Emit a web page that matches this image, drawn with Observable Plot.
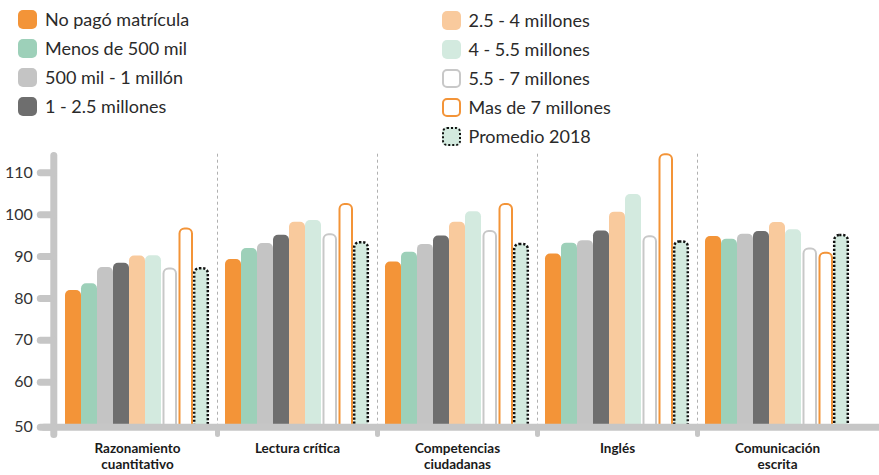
<!DOCTYPE html>
<html><head><meta charset="utf-8">
<script src="https://cdn.jsdelivr.net/npm/d3@7"></script>
<script src="https://cdn.jsdelivr.net/npm/@observablehq/plot@0.6"></script>
<style>
body{margin:0;background:#fff;font-family:Lato,"Open Sans",sans-serif;}
#legend{position:relative;height:150px;width:879px;}
.item{position:absolute;display:flex;align-items:center;font-size:18px;color:#2a2a2a;height:22px;white-space:nowrap;}
.sw{width:19px;height:19px;border-radius:5px;box-sizing:border-box;margin-right:8px;flex:none;}
#chart svg{display:block;}
</style></head><body>
<div id="legend"></div><div id="chart"></div>
<script>
const subjects = ["Razonamiento cuantitativo","Lectura crítica","Competencias ciudadanas","Inglés","Comunicación escrita"];
const subjectLabels = ["Razonamiento\ncuantitativo","Lectura crítica","Competencias\nciudadanas","Inglés","Comunicación\nescrita"];
const categories = ["No pagó matrícula","Menos de 500 mil","500 mil - 1 millón","1 - 2.5 millones","2.5 - 4 millones","4 - 5.5 millones","5.5 - 7 millones","Mas de 7 millones","Promedio 2018"];
const razonamiento = [81.9, 83.5, 87.4, 88.4, 90.1, 90.2, 87.0, 96.6, 87.1];
const lectura      = [89.3, 91.9, 93.1, 95.1, 98.2, 98.6, 95.2, 102.4, 93.3];
const competencias = [88.7, 91.0, 92.9, 94.9, 98.2, 100.7, 96.0, 102.4, 92.9];
const ingles       = [90.6, 93.2, 93.8, 96.1, 100.6, 104.8, 94.7, 114.3, 93.5];
const comunicacion = [94.8, 94.1, 95.3, 96.0, 98.1, 96.4, 91.8, 90.8, 95.0];
const yTickLabels = [50, 60, 70, 80, 90, 100, 110];

const fills = ["#f39438","#9dd0b9","#c4c4c4","#6e6e6e","#f9ca9d","#d3eadf","#ffffff","#ffffff","#d3eadf"];
const strokes = [null,null,null,null,null,null,"#c8c8c8","#f39438","#111111"];
const axisGray = "#c6c6c6";

// legend
const legend = document.getElementById("legend");
categories.forEach((c, i) => {
  const col = i < 4 ? 0 : 1;
  const row = i < 4 ? i : i - 4;
  const it = document.createElement("div");
  it.className = "item";
  it.style.left = (col ? 441.5 : 18) + "px";
  it.style.top = (col ? 9 : 8) + row * 29 + "px";
  const sw = document.createElement("div");
  sw.className = "sw";
  sw.style.background = fills[i];
  if (strokes[i]) sw.style.border = "2.5px " + (i === 8 ? "dotted " : "solid ") + strokes[i];
  const tx = document.createElement("span");
  tx.textContent = c;
  it.appendChild(sw); it.appendChild(tx);
  legend.appendChild(it);
});

const series = [razonamiento, lectura, competencias, ingles, comunicacion];
const rows = [];
series.forEach((vals, i) => vals.forEach((v, j) => rows.push({subject: subjects[i], category: categories[j], value: v, k: j})));

const yBase = 49.25;
const yTop = 115.32;
const yTicks = yTickLabels.map(d => d === 50 ? yBase : d);
const yBelow = 40;

const plot = Plot.plot({
  width: 879, height: 325,
  marginLeft: 53, marginRight: 18.6, marginTop: 0, marginBottom: 48.3,
  fx: {domain: subjects, paddingInner: 0, paddingOuter: 0.023, axis: null},
  x: {domain: categories, paddingInner: 0, paddingOuter: 0.5, axis: null},
  y: {domain: [yBase, yTop], axis: null},
  style: {fontFamily: "Lato, 'Open Sans', sans-serif", background: "white", overflow: "visible"},
  marks: [
    Plot.ruleX(subjects.slice(1), {fx: d => d, x: () => categories[0], dx: -16, y1: () => yBase, y2: () => 114.8, stroke: "#b0b0b0", strokeDasharray: "3,3", strokeWidth: 1}),
    Plot.barY(rows.filter(d => d.k < 6), {fx: "subject", x: "category", y1: () => yBelow, y2: "value", fill: d => fills[d.k], rx: 5, clip: true}),
    Plot.barY(rows.filter(d => d.k === 6), {fx: "subject", x: "category", y1: () => yBelow, y2: "value", fill: "#fff", stroke: strokes[6], strokeWidth: 2, rx: 5, insetLeft: 2.5, insetRight: 1, clip: true}),
    Plot.barY(rows.filter(d => d.k === 7), {fx: "subject", x: "category", y1: () => yBelow, y2: "value", fill: "#fff", stroke: strokes[7], strokeWidth: 2, rx: 5, insetLeft: 2.5, insetRight: 1, clip: true}),
    Plot.barY(rows.filter(d => d.k === 8), {fx: "subject", x: "category", y1: () => yBelow, y2: "value", fill: fills[8], stroke: strokes[8], strokeWidth: 2.5, strokeDasharray: "2.2,1.8", rx: 5, insetLeft: 1.2, insetRight: 1.2, clip: true}),
    Plot.ruleY([subjects[0]], {fx: d => d, y: () => yBase, insetLeft: -13.2, stroke: axisGray, strokeWidth: 7, strokeLinecap: "round"}),
    Plot.ruleY(subjects.slice(1, 4), {fx: d => d, y: () => yBase, stroke: axisGray, strokeWidth: 7}),
    Plot.ruleY([subjects[4]], {fx: d => d, y: () => yBase, insetRight: -24, stroke: axisGray, strokeWidth: 7}),
    Plot.ruleX(subjects.slice(1), {fx: d => d, x: () => categories[0], dx: -16, y1: () => yBase, y2: () => 47.4, stroke: axisGray, strokeWidth: 5, strokeLinecap: "round"}),
    Plot.ruleX([subjects[0]], {fx: d => d, x: () => categories[0], dx: -19.7, y1: () => 47.4, y2: () => 114.0, stroke: axisGray, strokeWidth: 7, strokeLinecap: "round"}),
    Plot.axisY({ticks: yTicks, tickFormat: d => d === yBase ? "50" : String(d), tickSize: 13, tickPadding: 8, dx: -3.7, stroke: axisGray, strokeWidth: 7, strokeLinecap: "round", fill: "#333", fontSize: 16, label: null}),
    Plot.text(subjects, {fx: d => d, text: (d, i) => subjectLabels[i], frameAnchor: "bottom", lineAnchor: "top", dy: 15, fontSize: 13.5, fontWeight: "bold", fill: "#1a1a1a", lineHeight: 1.15})
  ]
});
document.getElementById("chart").appendChild(plot);
</script>
</body></html>
